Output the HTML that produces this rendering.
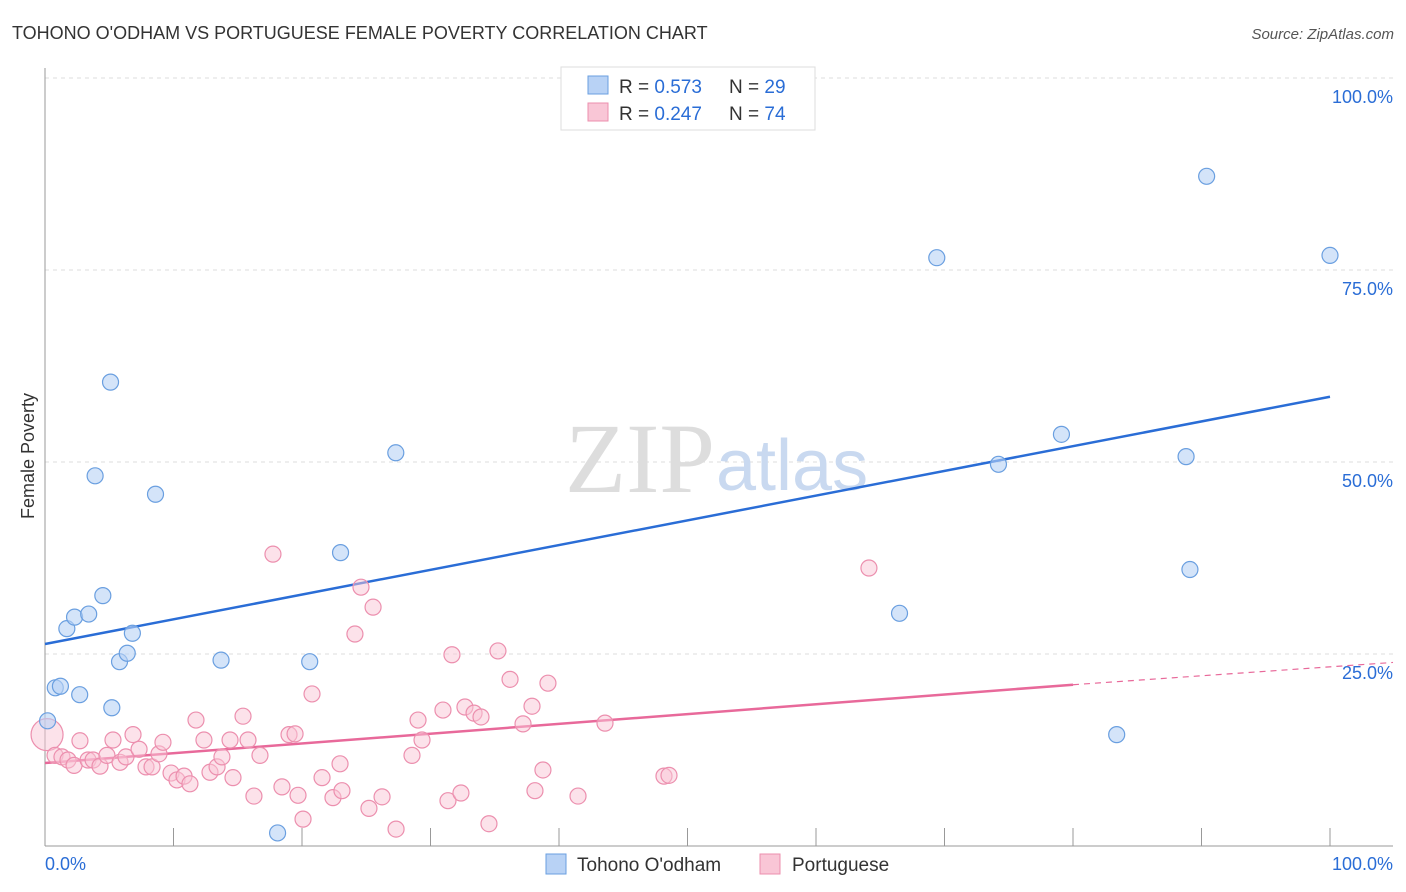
<!DOCTYPE html>
<html><head><meta charset="utf-8"><style>
body{margin:0;background:#fff;font-family:"Liberation Sans",sans-serif;}
svg{display:block}
</style></head><body>
<svg id="chart" width="1406" height="892">
<text x="12" y="39" font-size="18" fill="#333">TOHONO O'ODHAM VS PORTUGUESE FEMALE POVERTY CORRELATION CHART</text>
<text x="1394" y="39" font-size="15" fill="#555" font-style="italic" text-anchor="end">Source: ZipAtlas.com</text>
<text x="34" y="456" font-size="18" fill="#333" transform="rotate(-90 34 456)" text-anchor="middle">Female Poverty</text>
<g id="grid"></g>
<text x="715" y="492" font-size="100" fill="#ddd" text-anchor="end" font-family="Liberation Serif">ZIP</text>
<text x="716" y="490" font-size="72" fill="#c9d9f0">atlas</text>
<g id="trends"></g>
<g id="points"></g>
<g>
<rect x="561" y="67" width="254" height="63" fill="#fff" stroke="#ddd"/>
<rect x="588" y="76" width="20" height="18" fill="#b8d2f5" stroke="#6a9fe0"/>
<text x="619" y="93" font-size="19" fill="#333">R = <tspan fill="#2a6dd6">0.573</tspan></text>
<text x="729" y="93" font-size="19" fill="#333">N = <tspan fill="#2a6dd6">29</tspan></text>
<rect x="588" y="103" width="20" height="18" fill="#f9c6d6" stroke="#ec8fae"/>
<text x="619" y="120" font-size="19" fill="#333">R = <tspan fill="#2a6dd6">0.247</tspan></text>
<text x="729" y="120" font-size="19" fill="#333">N = <tspan fill="#2a6dd6">74</tspan></text>
</g>
<g>
<rect x="546" y="854" width="20" height="20" fill="#b8d2f5" stroke="#6a9fe0"/>
<text x="577" y="871" font-size="19" fill="#333">Tohono O'odham</text>
<rect x="760" y="854" width="20" height="20" fill="#f9c6d6" stroke="#ec8fae"/>
<text x="792" y="871" font-size="19" fill="#333">Portuguese</text>
</g>
<text x="45" y="870" font-size="18" fill="#2a6dd6">0.0%</text>
<text x="1393" y="870" font-size="18" fill="#2a6dd6" text-anchor="end">100.0%</text>
</svg>
<script>
const yTicks=[100,75,50,25];
const yTickLabels=["100.0%","75.0%","50.0%","25.0%"];
const blueX=[0.2,0.8,1.2,1.7,2.3,2.7,3.4,3.9,4.5,5.1,5.2,5.8,6.4,6.8,8.6,13.7,18.1,20.6,23.0,27.3,66.5,69.4,74.2,79.1,83.4,88.8,89.1,90.4,100];
const blueY=[16.3,20.6,20.8,28.3,29.8,19.7,30.2,48.2,32.6,60.4,18.0,24.0,25.1,27.7,45.8,24.2,1.7,24.0,38.2,51.2,30.3,76.6,49.7,53.6,14.5,50.7,36.0,87.2,76.9];
const pinkX=[0.16,0.78,1.32,1.79,2.26,2.72,3.35,3.74,4.28,4.82,5.29,5.84,6.30,6.85,7.32,7.86,8.33,8.87,9.18,9.81,10.27,10.82,11.28,11.75,12.37,12.84,13.39,13.77,14.63,15.41,14.40,15.80,16.26,16.73,17.74,18.44,18.99,19.46,19.69,20.08,20.78,21.56,22.41,22.96,23.11,24.12,24.59,25.21,25.53,26.23,27.32,28.56,29.03,29.34,30.97,31.36,31.67,32.37,32.68,33.39,33.93,34.55,35.25,36.19,37.20,37.90,38.13,38.75,39.14,41.48,43.58,48.17,48.56,64.12];
const pinkY=[14.5,11.8,11.6,11.2,10.5,13.7,11.2,11.2,10.4,11.8,13.8,10.9,11.6,14.5,12.6,10.3,10.3,12.0,13.5,9.5,8.6,9.1,8.1,16.4,13.8,9.6,10.3,11.6,8.9,16.9,13.8,13.8,6.5,11.8,38.0,7.7,14.5,14.6,6.6,3.5,19.8,8.9,6.3,10.7,7.2,27.6,33.7,4.9,31.1,6.4,2.2,11.8,16.4,13.8,17.7,5.9,24.9,6.9,18.1,17.3,16.8,2.9,25.4,21.7,15.9,18.2,7.2,9.9,21.2,6.5,16.0,9.1,9.2,36.2];
const blueFit=[26.3,58.5];
const pinkFit=[10.8,21.0,23.9];
const X0=45,X1=1330,Y0=846,Y100=78;
const sx=v=>X0+(X1-X0)*v/100;
const sy=v=>Y0-(Y0-Y100)*v/100;
const NS="http://www.w3.org/2000/svg";
function mk(parent,tag,attrs){const e=document.createElementNS(NS,tag);for(const k in attrs)e.setAttribute(k,attrs[k]);document.getElementById(parent).appendChild(e);return e;}
yTicks.forEach((t,i)=>{
 const l=mk('grid','line',{x1:X0,x2:1393,y1:sy(t),y2:sy(t),stroke:'#ddd','stroke-dasharray':'4,4'});
 
 
 const tx=mk('grid','text',{x:1393,y:sy(t)+25,'font-size':18,fill:'#2a6dd6','text-anchor':'end'});
 tx.textContent=yTickLabels[i];
 
 
});
const ax=mk('grid','line',{x1:X0,x2:X0,y1:68,y2:Y0,stroke:'#999'});


const bx=mk('grid','line',{x1:X0,x2:1393,y1:Y0,y2:Y0,stroke:'#999'});


for(let i=1;i<=10;i++){const t=mk('grid','line',{x1:sx(i*10),x2:sx(i*10),y1:Y0,y2:Y0-18,stroke:'#999'});
 
 }
pinkX.forEach((x,i)=>{const c=mk('points','circle',{cx:sx(x),cy:sy(pinkY[i]),r:i==0?16:8,fill:'rgba(249,198,214,0.5)',stroke:'#ec8fae','stroke-width':1.2});
 
 });
blueX.forEach((x,i)=>{const c=mk('points','circle',{cx:sx(x),cy:sy(blueY[i]),r:8,fill:'rgba(184,210,245,0.6)',stroke:'#6a9fe0','stroke-width':1.2});
 
 });
const bl=mk('trends','line',{x1:sx(0),y1:sy(blueFit[0]),x2:sx(100),y2:sy(blueFit[1]),stroke:'#2a6dd6','stroke-width':2.5});


const pl=mk('trends','line',{x1:sx(0),y1:sy(pinkFit[0]),x2:sx(80),y2:sy(pinkFit[1]),stroke:'#e8699a','stroke-width':2.5});


const pd=mk('trends','line',{x1:sx(80),y1:sy(pinkFit[1]),x2:1393,y2:sy(pinkFit[2]),stroke:'#e8699a','stroke-width':1.2,'stroke-dasharray':'6,5'});


</script>
</body></html>
